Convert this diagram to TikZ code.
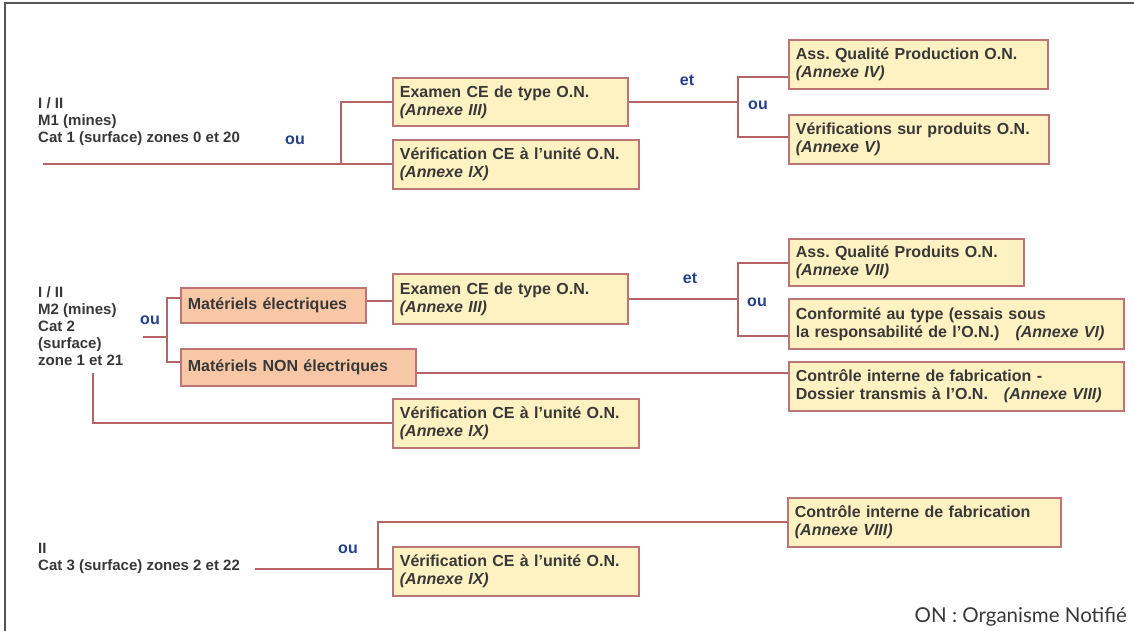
\documentclass[tikz,border=0pt]{standalone}
\usepackage{fontspec}
\setmainfont{Liberation Sans}
\newfontfamily\notefont{Lato}
\frenchspacing
\definecolor{boxfill}{HTML}{FFF2C2}
\definecolor{boxline}{HTML}{BC7474}
\definecolor{matfill}{HTML}{F8C8A6}
\definecolor{linkred}{HTML}{B36565}
\definecolor{txtgrey}{HTML}{383838}
\definecolor{ounavy}{HTML}{24408A}
\definecolor{framegrey}{HTML}{555555}

\begin{document}
\begin{tikzpicture}[x=1pt,y=-1pt,
    ybox/.style={draw=boxline,fill=boxfill,line width=1.8pt,anchor=north west,align=left,
      inner xsep=7pt,inner ysep=2pt,text=txtgrey,font=\fontsize{16}{18}\selectfont\bfseries},
    mbox/.style={ybox,fill=matfill},
    link/.style={draw=linkred,line width=1.8pt},
    word/.style={text=ounavy,inner sep=0pt,font=\fontsize{16}{16}\selectfont\bfseries},
    cat/.style={anchor=north west,align=left,inner sep=0pt,text=txtgrey,
      font=\fontsize{15}{17}\selectfont\bfseries}]
  \useasboundingbox (0,0) rectangle (1134,631);
  \draw[framegrey,line width=1.5pt] (1134,3) -- (5,3) -- (5,631);

  % categorie 1
  \node[cat] (cat1) at (38,97) {I / II\\M1 (mines)\\Cat 1 (surface) zones 0 et 20};
  \node[ybox,text width=221pt,minimum height=48pt] (exa1) at (392,77) {Examen CE de type O.N.\\\textit{(Annexe III)}};
  \node[ybox,text width=232pt,minimum height=49pt] (ver1) at (392,139) {Vérification CE à l'unité O.N.\\\textit{(Annexe IX)}};
  \node[ybox,text width=245pt,minimum height=49pt] (aqp1) at (788,39) {Ass. Qualité Production O.N.\\\textit{(Annexe IV)}};
  \node[ybox,text width=246pt,minimum height=49pt] (vsp1) at (788,114) {Vérifications sur produits O.N.\\\textit{(Annexe V)}};
  \node[word] (ou1) at (295,140) {ou};
  \node[word] (et1) at (687,80) {et};
  \node[word] (ou2) at (758,105) {ou};
  \coordinate (s1) at (43,164);
  \coordinate (j1) at (341,164);
  \coordinate (j2t) at (738,77);
  \coordinate (j2b) at (738,137);
  \draw[link] (s1) -- (ver1.west |- s1);
  \draw[link] (j1) |- (exa1.west);
  \draw[link] (exa1.east) -- (exa1.east -| j2t);
  \draw[link] (aqp1.west |- j2t) -- (j2t) -- (j2b) -- (vsp1.west |- j2b);

  % categorie 2
  \node[cat] (cat2) at (38,286) {I / II\\M2 (mines)\\Cat 2\\(surface)\\zone 1 et 21};
  \node[mbox,text width=171pt,minimum height=35pt] (mel) at (180,287) {Matériels électriques};
  \node[mbox,text width=221pt,minimum height=37pt] (mne) at (180,348) {Matériels NON électriques};
  \node[ybox,text width=221pt,minimum height=50pt] (exa2) at (392,273) {Examen CE de type O.N.\\\textit{(Annexe III)}};
  \node[ybox,text width=221pt,minimum height=47pt] (aqp2) at (788,238) {Ass. Qualité Produits O.N.\\\textit{(Annexe VII)}};
  \node[ybox,text width=321pt,minimum height=50pt] (conf) at (788,298) {Conformité au type (essais sous\\la responsabilité de l'O.N.)\quad\textit{(Annexe VI)}};
  \node[ybox,text width=321pt,minimum height=49pt] (cif2) at (788,361) {Contrôle interne de fabrication -\\Dossier transmis à l'O.N.\quad\textit{(Annexe VIII)}};
  \node[ybox,text width=232pt,minimum height=49pt] (ver2) at (392,398) {Vérification CE à l'unité O.N.\\\textit{(Annexe IX)}};
  \node[word] (ou3) at (150,320) {ou};
  \node[word] (et2) at (690,278) {et};
  \node[word] (ou4) at (757,302) {ou};
  \coordinate (s2) at (143,337);
  \coordinate (j3t) at (167,298);
  \coordinate (j3b) at (167,362);
  \coordinate (j4t) at (738,263);
  \coordinate (j4b) at (738,336);
  \coordinate (ml) at (0,301);
  \coordinate (nl) at (0,373);
  \coordinate (s3) at (93,373);
  \coordinate (s3b) at (93,423);
  \draw[link] (s2) -- (s2 -| j3t);
  \draw[link] (mel.west |- j3t) -- (j3t) -- (j3b) -- (mne.west |- j3b);
  \draw[link] (mel.east |- ml) -- (exa2.west |- ml);
  \draw[link] (exa2.east) -- (exa2.east -| j4t);
  \draw[link] (aqp2.west |- j4t) -- (j4t) -- (j4b) -- (conf.west |- j4b);
  \draw[link] (mne.east |- nl) -- (cif2.west |- nl);
  \draw[link] (s3) -- (s3b) -- (ver2.west |- s3b);

  % categorie 3
  \node[cat] (cat3) at (38,543) {II\\Cat 3 (surface) zones 2 et 22};
  \node[ybox,text width=259pt,minimum height=49pt] (cif3) at (787,497) {Contrôle interne de fabrication\\\textit{(Annexe VIII)}};
  \node[ybox,text width=232pt,minimum height=49pt] (ver3) at (392,546) {Vérification CE à l'unité O.N.\\\textit{(Annexe IX)}};
  \node[word] (ou5) at (348,549) {ou};
  \coordinate (s4) at (255,569);
  \coordinate (j5) at (378,569);
  \coordinate (j5t) at (378,522);
  \draw[link] (s4) -- (ver3.west |- s4);
  \draw[link] (j5) -- (j5t) -- (cif3.west |- j5t);

  \node[anchor=east,inner sep=0pt,text=txtgrey,font=\notefont\fontsize{20.5}{22}\selectfont] (note) at (1127,617) {ON : Organisme Notifié};
\end{tikzpicture}
\end{document}
